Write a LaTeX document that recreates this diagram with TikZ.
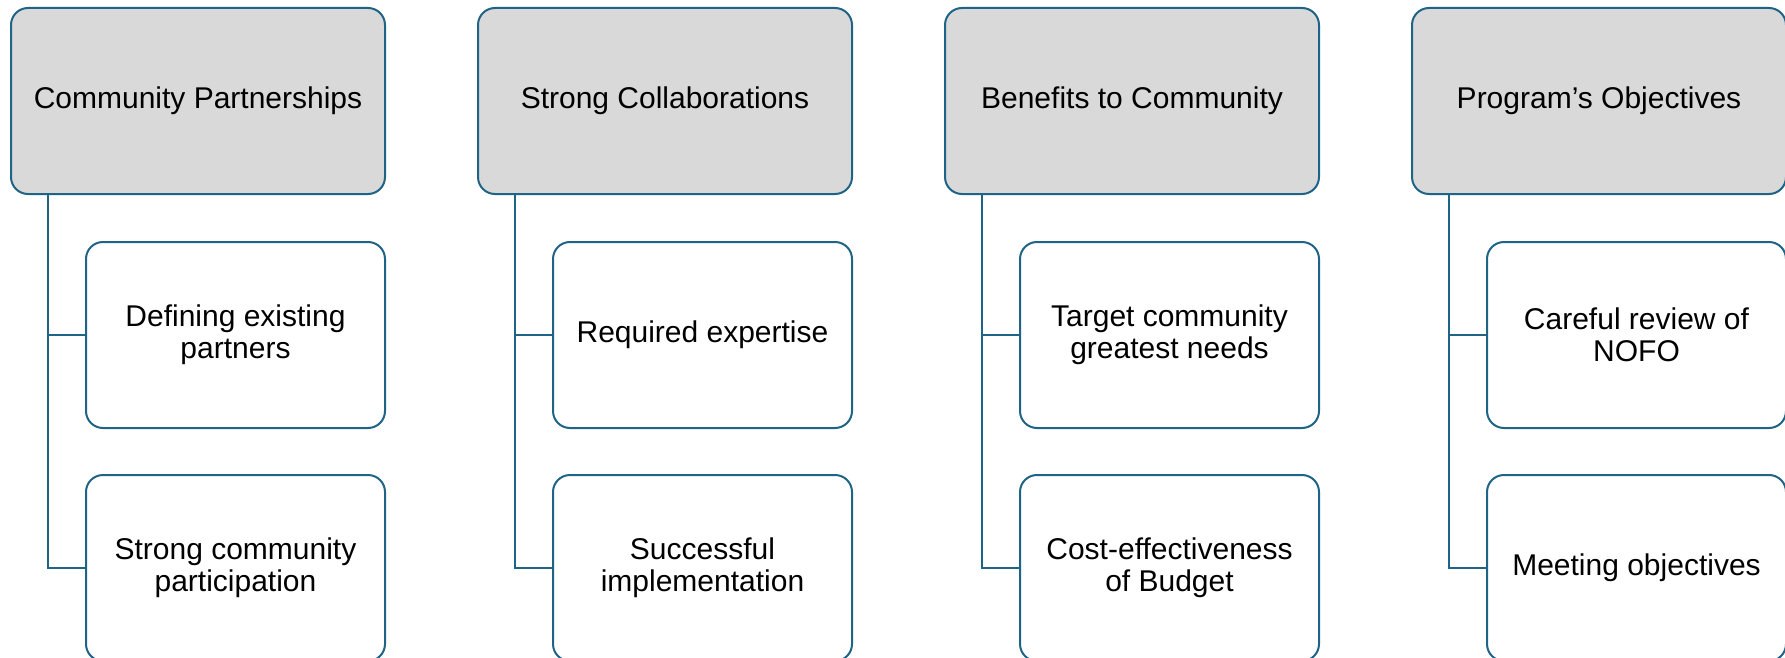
\documentclass[tikz,border=0pt]{standalone}
\usepackage{fontspec}
\setmainfont{Liberation Sans}
\definecolor{edgeblue}{RGB}{31,99,135}
\definecolor{headgray}{RGB}{217,217,217}
\tikzset{
  x=1pt,y=-1pt,
  boxbase/.style={draw=edgeblue,line width=2pt,rounded corners=17pt,inner sep=0pt,align=center,
    font=\fontsize{30}{32}\selectfont},
  headbox/.style={boxbase,fill=headgray,minimum width=374pt,minimum height=186pt},
  childbox/.style={boxbase,fill=white,minimum width=299pt,minimum height=186pt},
  link/.style={draw=edgeblue,line width=2pt}
}
\begin{document}
\begin{tikzpicture}
\useasboundingbox (0,0) rectangle (1785,658);
\foreach \i/\h/\a/\b in {
  0/{Community Partnerships}/{Defining existing\\partners}/{Strong community\\participation},
  1/{Strong Collaborations}/{Required expertise}/{Successful\\implementation},
  2/{Benefits to Community}/{Target community\\greatest needs}/{Cost-effectiveness\\of Budget},
  3/{Program’s Objectives}/{Careful review of\\NOFO}/{Meeting objectives}} {
  \pgfmathsetmacro{\dx}{467*\i}
  \node[headbox] (h\i) at (198+\dx,101) {\h};
  \node[childbox] (a\i) at (235.5+\dx,335) {\a};
  \node[childbox] (b\i) at (235.5+\dx,568) {\b};
  \coordinate (s\i) at (48+\dx,194);
  \draw[link] (s\i) |- (a\i.west);
  \draw[link] (s\i) |- (b\i.west);
}
\end{tikzpicture}
\end{document}
